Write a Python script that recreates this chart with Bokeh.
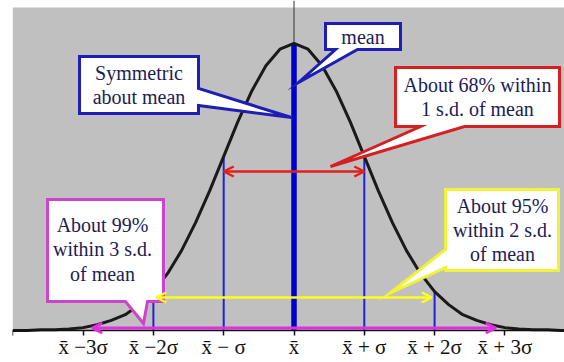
import numpy as np
from bokeh.plotting import figure
from bokeh.models import (Range1d, FixedTicker, Arrow, OpenHead, BoxAnnotation)
from bokeh.core.properties import value
from bokeh.embed import file_html
from bokeh.resources import INLINE

# ---------------- data (x in standard deviations from the mean) -------------
tick_positions = [-4, -3, -2, -1, 0, 1, 2, 3]
label_positions = [-3, -2, -1, 0, 1, 2, 3]
tick_labels = ["x\u0304 \u22123\u03c3", "x\u0304 \u22122\u03c3", "x\u0304 \u2212 \u03c3",
               "x\u0304", "x\u0304 + \u03c3", "x\u0304 + 2\u03c3", "x\u0304 + 3\u03c3"]

curve_x = [-4.0, -3.8, -3.6, -3.4, -3.2, -3.0, -2.8, -2.6, -2.4, -2.2,
           -2.0, -1.8, -1.6, -1.4, -1.2, -1.0, -0.8, -0.6, -0.4, -0.2,
           0.0, 0.2, 0.4, 0.6, 0.8, 1.0, 1.2, 1.4, 1.6, 1.8,
           2.0, 2.2, 2.4, 2.6, 2.8, 3.0, 3.2, 3.4, 3.6, 3.8, 4.0]
curve_y = [0.000, 0.000, 0.001, 0.001, 0.002, 0.004, 0.008, 0.014, 0.022, 0.036,
           0.054, 0.079, 0.111, 0.150, 0.194, 0.242, 0.290, 0.333, 0.368, 0.391,
           0.399, 0.391, 0.368, 0.333, 0.290, 0.242, 0.194, 0.150, 0.111, 0.079,
           0.054, 0.036, 0.022, 0.014, 0.008, 0.004, 0.002, 0.001, 0.001, 0.000, 0.000]

sd_line_x = [-2, -1, 1, 2]
sd_line_top = [0.054, 0.242, 0.242, 0.054]
mean_x = 0
mean_top = 0.399

range_68 = (-1.0, 1.0)
range_95 = (-1.96, 1.96)
range_99 = (-2.87, 2.87)

# ---------------- geometry helpers (reference pixel -> data) ----------------
M, S, B, K = 293.5, 70.3, 330.0, 719.5


def X(px):
    return (px - M) / S


def Y(py):
    return (B - py) / K


FONT_NAME = "Liberation Serif"
FONT = value(FONT_NAME)
TXT = "#1c1c54"
BLUE = "#0000cc"

p = figure(width=564, height=362, output_backend="svg", toolbar_location=None,
           x_range=Range1d(X(12), X(564)), y_range=Range1d(Y(362), Y(0)),
           y_axis_location=None, min_border_left=12, min_border_right=0,
           min_border_top=0, min_border_bottom=0)
p.background_fill_color = "white"
p.border_fill_color = "white"
p.outline_line_color = None
p.xgrid.visible = False
p.ygrid.visible = False

# gray plotting area above the baseline
p.add_layout(BoxAnnotation(bottom=0, top=Y(7), fill_color="#c0c0c0", fill_alpha=1.0,
                           line_color=None, level="underlay"))

ax = p.xaxis[0]
ax.fixed_location = 0
ax.ticker = FixedTicker(ticks=tick_positions)
ax.major_label_overrides = {**{-4: ""}, **dict(zip(label_positions, tick_labels))}
ax.minor_tick_line_color = None
ax.major_tick_in = 0
ax.major_tick_out = 5
ax.major_tick_line_width = 1.5
ax.major_tick_line_color = "#111111"
ax.axis_line_width = 1.5
ax.axis_line_color = "#111111"
ax.major_label_text_font = FONT_NAME
ax.major_label_text_font_size = "21px"
ax.major_label_text_color = "#111111"
ax.major_label_standoff = -1

# vertical reference line at the mean
p.segment(x0=[mean_x], y0=[0], x1=[mean_x], y1=[Y(0)], line_color="#333333", line_width=1)

# s.d. lines and mean line
p.segment(x0=sd_line_x, y0=[0] * len(sd_line_x), x1=sd_line_x, y1=sd_line_top,
          line_color="#2020d8", line_width=2)
p.segment(x0=[mean_x], y0=[0], x1=[mean_x], y1=[mean_top], line_color=BLUE, line_width=5.5)

# normal curve
p.line(curve_x, curve_y, line_color="#1a1a1a", line_width=3)


# range arrows
def add_arrow(rng, py, color, lw):
    p.add_layout(Arrow(start=OpenHead(size=10, line_color=color, line_width=lw),
                       end=OpenHead(size=10, line_color=color, line_width=lw),
                       x_start=rng[0], y_start=Y(py), x_end=rng[1], y_end=Y(py),
                       line_color=color, line_width=lw))


add_arrow(range_68, 171, "#e0201c", 2.5)
add_arrow(range_95, 297, "#ffff1a", 2.5)
add_arrow(range_99, 327.5, "#e030e0", 3)


# callouts
def callout(pts, color, text, cx, cy):
    xs = [X(a) for a, b in pts]
    ys = [Y(b) for a, b in pts]
    p.patch(xs, ys, fill_color="white", line_color=color, line_width=3, line_join="miter")
    p.text(x=[X(cx)], y=[Y(cy)], text=[text], text_font=FONT, text_font_size="20px",
           text_color=TXT, text_align="center", text_baseline="middle",
           text_line_height=1.1)


callout([(79, 56), (198, 56), (198, 88), (291, 117), (198, 105), (198, 113), (79, 113)],
        "#1e1eb4", "Symmetric\nabout mean", 138.5, 84.5)
callout([(325, 23), (400, 23), (400, 49), (357, 49), (298, 82), (335, 49), (325, 49)],
        "#1e1eb4", "mean", 362.5, 36)
callout([(395, 67), (559, 67), (559, 126), (464, 126), (330, 166), (420, 126), (395, 126)],
        "#d42020", "About 68% within\n1 s.d. of mean", 477, 96.5)
callout([(445, 189), (558, 189), (558, 270), (445, 270), (445, 267), (389, 293), (445, 249)],
        "#f2f23a", "About 95%\nwithin 2 s.d.\nof mean", 502, 229.5)
callout([(47, 199), (163, 199), (163, 301), (147, 301), (143, 323), (125, 301), (47, 301)],
        "#cc44cc", "About 99%\nwithin 3 s.d.\nof mean", 102, 249)

open("out.html", "w").write(file_html(p, INLINE))
